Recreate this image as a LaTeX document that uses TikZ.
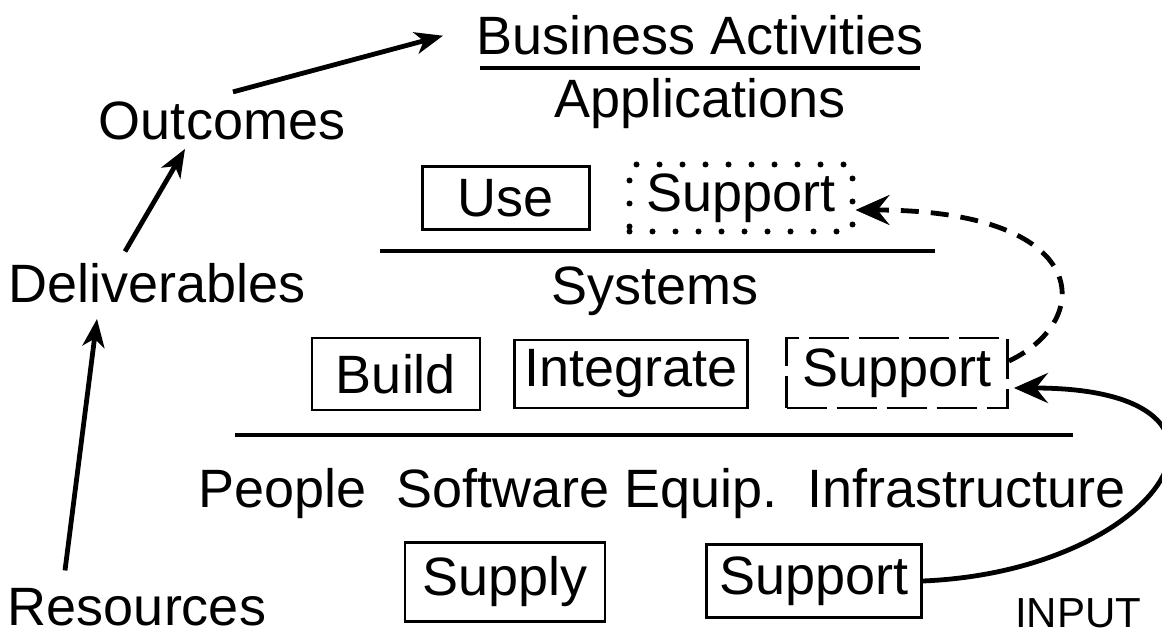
\documentclass[tikz,border=0pt]{standalone}
\usepackage{fontspec}
\setmainfont{Liberation Sans}
\usetikzlibrary{arrows.meta}

\begin{document}
\begin{tikzpicture}[x=0.5pt, y=-0.5pt,
	font=\fontsize{27}{32}\selectfont,
	lbl/.style={inner sep=2pt, anchor=base},
	box/.style={draw, line width=1.4pt, inner sep=0pt},
	dotbox/.style={box, line width=3pt, line cap=round, dash pattern=on 0pt off 11.5pt},
	dashbox/.style={box, line width=1.4pt, dash pattern=on 20pt off 5pt},
	rule/.style={line width=2.4pt},
	arr/.style={-{Stealth[length=14pt, width=11pt, inset=4pt]}, line width=2.4pt},
	bigarr/.style={-{Stealth[length=17pt, width=15pt, inset=6pt]}, line width=2.4pt}
]
\useasboundingbox (0,0) rectangle (1162,636);

% levels
\node[lbl] (busact) at (700,55) {Business Activities};
\draw[rule] (480,68) -- (920,68);
\node[lbl] (appl) at (700,118) {Applications};
\node[box, minimum width=83.5pt, minimum height=31.5pt] (use) at (506,198) {Use};
\node[dotbox, minimum width=111.5pt, minimum height=33.5pt] (appsupp) at (741,198) {Support};
\draw[rule] (380,251) -- (935,251);

\node[lbl] (sys) at (655,305) {Systems};
\node[box, minimum width=84pt, minimum height=36pt] (build) at (396,374) {Build};
\node[box, minimum width=116.5pt, minimum height=34pt] (integ) at (631,374) {Integrate};
\node[dashbox, minimum width=110.5pt, minimum height=35pt] (syssupp) at (897,373) {Support};
\draw[rule] (235,435) -- (1073,435);

\node[lbl] (resrow) at (662,507) {People~~Software Equip.~~Infrastructure};
\node[box, minimum width=100pt, minimum height=39.5pt] (supply) at (505,582) {Supply};
\node[box, minimum width=107.5pt, minimum height=36.5pt] (ressupp) at (814,581) {Support};
\node[lbl, font=\fontsize{21}{25}\selectfont] (input) at (1078,627) {INPUT};

% left column
\node[lbl] (outc) at (222,140) {Outcomes};
\node[lbl] (deliv) at (157,303) {Deliverables};
\node[lbl] (res) at (137,625) {Resources};

\draw[arr] ([xshift=-36pt,yshift=6.5pt]res.north) -- ([xshift=-30pt,yshift=-5.5pt]deliv.south);
\draw[arr] ([xshift=-16pt,yshift=4pt]deliv.north) -- ([xshift=-18.5pt,yshift=-2pt]outc.south);
\draw[arr] ([xshift=5.5pt,yshift=3pt]outc.north) -- ([xshift=-14.5pt]busact.west);

% support loops
\draw[bigarr] (ressupp.east) .. controls +(240,-10) and +(265,0) .. ([xshift=2.5pt,yshift=-7.5pt]syssupp.east);
\draw[bigarr, dash pattern=on 9pt off 6pt] ([yshift=6pt]syssupp.east) .. controls +(87,-41) and +(237,0) .. ([yshift=-6pt]appsupp.east);
\end{tikzpicture}
\end{document}
